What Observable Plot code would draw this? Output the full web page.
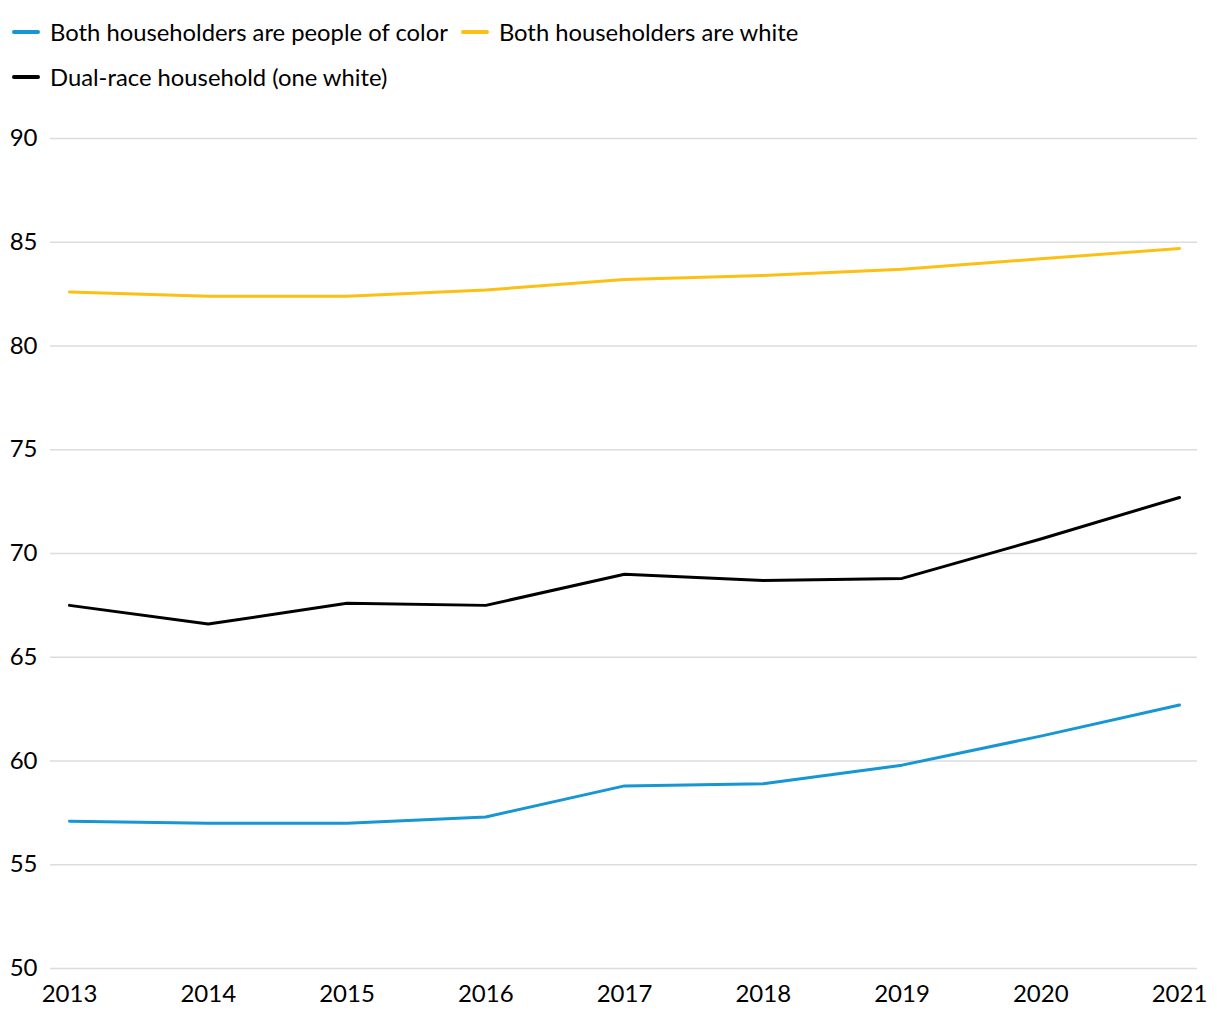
<!DOCTYPE html>
<html>
<head>
<meta charset="utf-8">
<script src="https://cdn.jsdelivr.net/npm/d3@7"></script>
<script src="https://cdn.jsdelivr.net/npm/@observablehq/plot@0.6"></script>
<style>
  html, body { margin: 0; padding: 0; background: #fff; }
  body { width: 1220px; height: 1020px; overflow: hidden; font-family: Lato, "Noto Sans", sans-serif; }
  #legend { box-sizing: border-box; height: 110px; width: 830px; padding: 9px 0 0 12px; display: flex; flex-wrap: wrap; align-content: flex-start; }
  .item { display: flex; align-items: center; height: 45px; margin-right: 13px; font-size: 23.8px; color: #000; white-space: nowrap; }
  .sw { width: 28px; height: 4px; border-radius: 2px; margin-right: 10px; }
  #chart svg { display: block; overflow: visible; }
</style>
</head>
<body>
<div id="legend"></div>
<div id="chart"></div>
<script>
const years = [2013, 2014, 2015, 2016, 2017, 2018, 2019, 2020, 2021];
const seriesNames = ["Both householders are people of color", "Both householders are white", "Dual-race household (one white)"];
const seriesColors = ["#1696d2", "#fdbf11", "#000000"];
const peopleOfColor = [57.1, 57.0, 57.0, 57.3, 58.8, 58.9, 59.8, 61.2, 62.7];
const bothWhite = [82.6, 82.4, 82.4, 82.7, 83.2, 83.4, 83.7, 84.2, 84.7];
const dualRace = [67.5, 66.6, 67.6, 67.5, 69.0, 68.7, 68.8, 70.7, 72.7];
const yTicks = [50, 55, 60, 65, 70, 75, 80, 85, 90];

const seriesValues = [peopleOfColor, bothWhite, dualRace];
const data = [];
seriesNames.forEach((name, i) => {
  years.forEach((y, j) => data.push({ year: y, value: seriesValues[i][j], series: name }));
});

// legend
const legend = document.getElementById("legend");
seriesNames.forEach((name, i) => {
  const it = document.createElement("div");
  it.className = "item";
  const sw = document.createElement("span");
  sw.className = "sw";
  sw.style.background = seriesColors[i];
  it.appendChild(sw);
  it.appendChild(document.createTextNode(name));
  legend.appendChild(it);
});

const chart = Plot.plot({
  width: 1220,
  height: 910,
  marginTop: 28,
  marginBottom: 52,
  marginLeft: 50,
  marginRight: 23,
  style: { fontFamily: "Lato, 'Noto Sans', sans-serif", fontSize: "24px", color: "#000", background: "#fff" },
  x: { domain: [2013, 2021], insetLeft: 19, insetRight: 18, label: null },
  y: { domain: [50, 90], label: null },
  color: { domain: seriesNames, range: seriesColors },
  marks: [
    Plot.gridY(yTicks, { stroke: "#dcdcdc", strokeOpacity: 1, strokeWidth: 1.5 }),
    Plot.axisY({ ticks: yTicks, tickSize: 0, tickPadding: 13, label: null, fontSize: 24 }),
    Plot.axisX({ ticks: years, tickFormat: d => String(d), tickSize: 0, tickPadding: 16, label: null, fontSize: 24 }),
    Plot.line(data, { x: "year", y: "value", z: "series", stroke: "series", strokeWidth: 3, strokeLinejoin: "round" })
  ]
});
document.getElementById("chart").appendChild(chart);
</script>
</body>
</html>
